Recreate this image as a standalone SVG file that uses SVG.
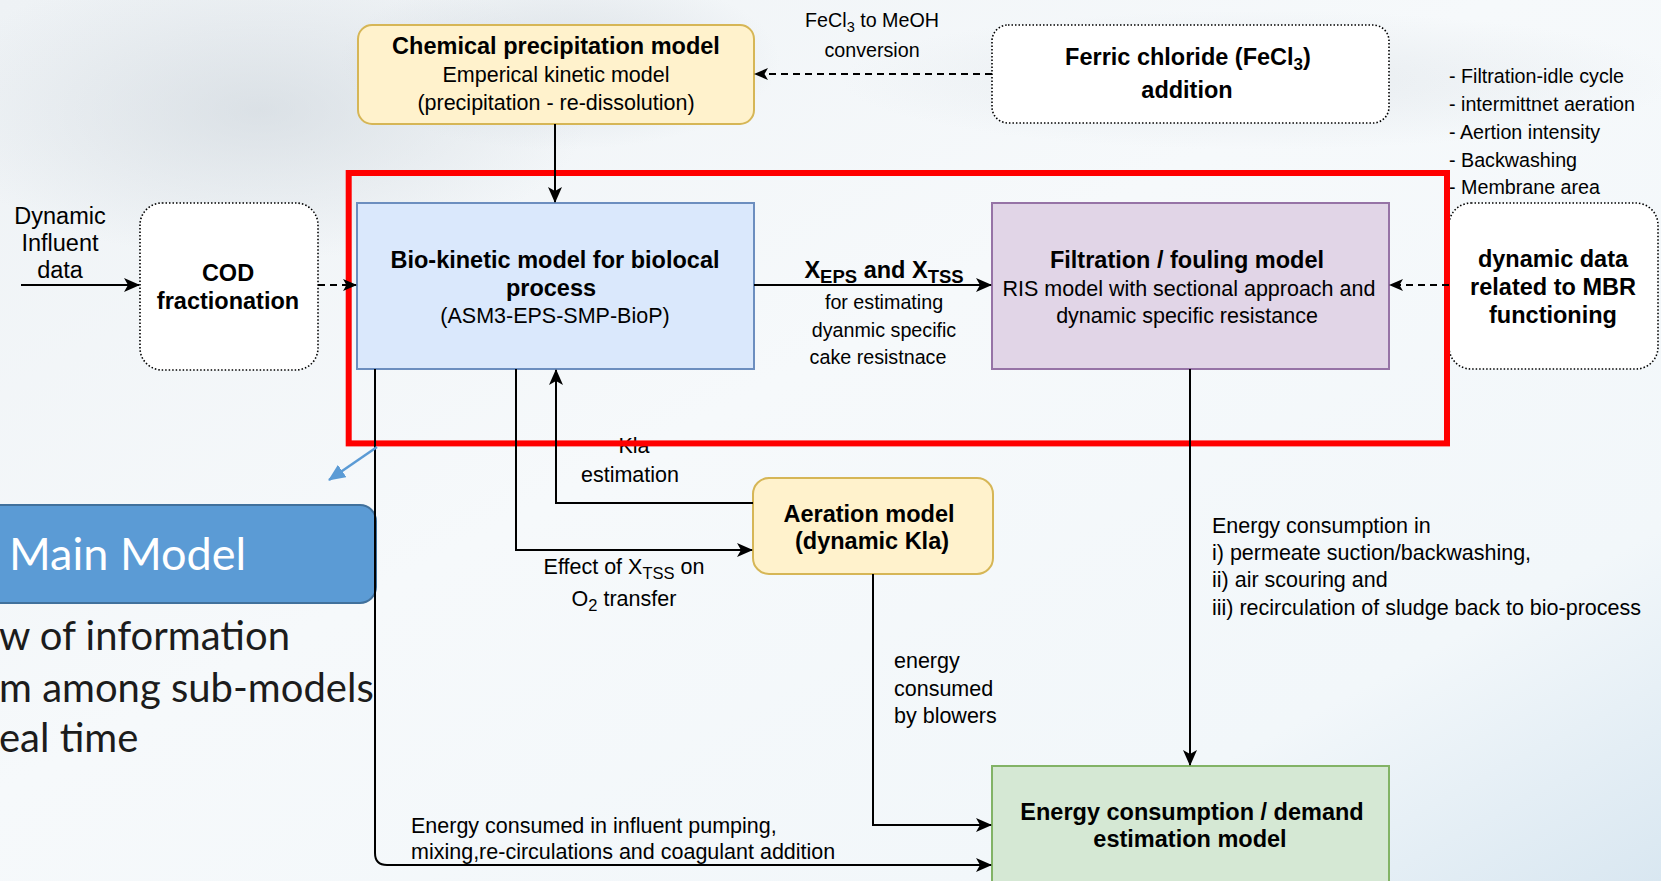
<svg xmlns="http://www.w3.org/2000/svg" width="1661" height="881" viewBox="0 0 1661 881">
<style>
.t{font-family:"Liberation Sans",Arial,sans-serif;fill:#000}
.b{font-weight:bold;font-size:23.5px}
.r{font-size:21.5px}
.s{font-size:19.7px}
.c{text-anchor:middle}
.ln{fill:none;stroke:#000;stroke-width:2}
.dash{fill:none;stroke:#000;stroke-width:2;stroke-dasharray:7 5}
.dot{fill:#fff;stroke:#000;stroke-width:1.6;stroke-dasharray:1.5 2}
.slide{font-family:Lato,"Open Sans",sans-serif;font-size:40px;fill:#1c1c1c}
</style>
<defs>
<linearGradient id="bg" x1="0" y1="0" x2="1" y2="1">
<stop offset="0" stop-color="#eef2f5"/>
<stop offset="0.45" stop-color="#f6f9fb"/>
<stop offset="0.8" stop-color="#f2f7fa"/>
<stop offset="1" stop-color="#d9e7f1"/>
</linearGradient>
<radialGradient id="splash" cx="0.5" cy="0.5" r="0.5">
<stop offset="0" stop-color="#c9d1d8" stop-opacity="0.55"/>
<stop offset="1" stop-color="#c9d1d8" stop-opacity="0"/>
</radialGradient>
<marker id="ah" viewBox="0 0 16 14" refX="15" refY="7" markerWidth="16" markerHeight="14" markerUnits="userSpaceOnUse" orient="auto">
<path d="M0,0 L16,7 L0,14 L4,7 Z" fill="#000"/>
</marker>
<marker id="ahs" viewBox="0 0 14 12" refX="13" refY="6" markerWidth="14" markerHeight="13" markerUnits="userSpaceOnUse" orient="auto">
<path d="M0,0 L14,6 L0,12 L3.5,6 Z" fill="#000"/>
</marker>
<marker id="ahb" viewBox="0 0 16 14" refX="15" refY="7" markerWidth="17" markerHeight="15" markerUnits="userSpaceOnUse" orient="auto">
<path d="M0,0 L16,7 L0,14 Z" fill="#5b9bd5"/>
</marker>
</defs>

<g id="background">
<rect x="0" y="0" width="1661" height="881" fill="url(#bg)"/>
<ellipse cx="260" cy="110" rx="330" ry="150" fill="url(#splash)"/>
<ellipse cx="560" cy="60" rx="220" ry="90" fill="url(#splash)"/>
<ellipse cx="1260" cy="80" rx="420" ry="70" fill="url(#splash)" opacity="0.6"/>
</g>

<g id="main-model-panel">
<rect x="-20" y="505" width="396" height="98" rx="16" fill="#5b9bd5" stroke="#41719c" stroke-width="2"/>
<text x="9" y="570" style="font-family:Lato,'Open Sans',sans-serif;font-size:45px;fill:#ffffff">Main Model</text>
<text class="slide" x="-1" y="650">w of information</text>
<text class="slide" x="-1" y="702">m among sub-models</text>
<text class="slide" x="-1" y="752">eal time</text>
</g>

<g id="node-chem">
<rect x="358" y="25" width="396" height="99" rx="14" fill="#fff2cc" stroke="#d6b656" stroke-width="2"/>
<text class="t b c" x="556" y="54">Chemical precipitation model</text>
<text class="t r c" x="556" y="82">Emperical kinetic model</text>
<text class="t r c" x="556" y="110">(precipitation - re-dissolution)</text>
</g>

<g id="node-ferric">
<rect x="992" y="25" width="397" height="98" rx="16" class="dot"/>
<text class="t b c" x="1188" y="65">Ferric chloride (FeCl<tspan font-size="17" dy="5">3</tspan><tspan dy="-5">)</tspan></text>
<text class="t b c" x="1187" y="98">addition</text>
</g>

<g id="node-cod">
<rect x="140" y="203" width="178" height="167" rx="22" class="dot"/>
<text class="t b c" x="228" y="281">COD</text>
<text class="t b c" x="228" y="309">fractionation</text>
</g>

<g id="node-bio">
<rect x="357" y="203" width="397" height="166" fill="#dae8fc" stroke="#6c8ebf" stroke-width="2"/>
<text class="t b c" x="555" y="268">Bio-kinetic model for biolocal</text>
<text class="t b c" x="551" y="296">process</text>
<text class="t r c" x="555" y="323">(ASM3-EPS-SMP-BioP)</text>
</g>

<g id="node-filtration">
<rect x="992" y="203" width="397" height="166" fill="#e1d5e7" stroke="#9673a6" stroke-width="2"/>
<text class="t b c" x="1187" y="268">Filtration / fouling model</text>
<text class="t r c" x="1189" y="296">RIS model with sectional approach and</text>
<text class="t r c" x="1187" y="323">dynamic specific resistance</text>
</g>

<g id="node-dynamic-data">
<rect x="1449" y="203" width="209" height="166" rx="22" class="dot"/>
<text class="t b c" x="1553" y="267">dynamic data</text>
<text class="t b c" x="1553" y="295">related to MBR</text>
<text class="t b c" x="1553" y="323">functioning</text>
</g>

<g id="node-aeration">
<rect x="753" y="478" width="240" height="96" rx="16" fill="#fff2cc" stroke="#d6b656" stroke-width="2"/>
<text class="t b c" x="869" y="522">Aeration model</text>
<text class="t b c" x="872" y="549">(dynamic Kla)</text>
</g>

<g id="node-energy">
<rect x="992" y="766" width="397" height="130" fill="#d5e8d4" stroke="#82b366" stroke-width="2"/>
<text class="t b c" x="1192" y="820">Energy consumption / demand</text>
<text class="t b c" x="1190" y="847">estimation model</text>
</g>

<g id="node-influent">
<text class="t c" font-size="23.5" x="60" y="224">Dynamic</text>
<text class="t c" font-size="23.5" x="60" y="251">Influent</text>
<text class="t c" font-size="23.5" x="60" y="278">data</text>
</g>

<g id="node-mbr-params">
<text class="t s" x="1449" y="83">- Filtration-idle cycle</text>
<text class="t s" x="1449" y="111">- intermittnet aeration</text>
<text class="t s" x="1449" y="139">- Aertion intensity</text>
<text class="t s" x="1449" y="167">- Backwashing</text>
<text class="t s" x="1449" y="194">- Membrane area</text>
</g>

<g id="labels">
<text class="t s c" x="872" y="27">FeCl<tspan font-size="14.5" dy="5">3</tspan><tspan dy="-5"> to  MeOH</tspan></text>
<text class="t s c" x="872" y="57">conversion</text>
<text class="t b c" x="884" y="278">X<tspan font-size="18.5" dy="5">EPS</tspan><tspan dy="-5"> and X</tspan><tspan font-size="18.5" dy="5">TSS</tspan></text>
<text class="t s c" x="884" y="309">for estimating</text>
<text class="t s c" x="884" y="337">dyanmic specific</text>
<text class="t s c" x="878" y="364">cake resistnace</text>
<text class="t r c" x="634" y="453">Kla</text>
<text class="t r c" x="630" y="482">estimation</text>
<text class="t r c" x="624" y="574">Effect of X<tspan font-size="16.5" dy="5">TSS</tspan><tspan dy="-5"> on</tspan></text>
<text class="t r c" x="624" y="606">O<tspan font-size="16.5" dy="5">2</tspan><tspan dy="-5"> transfer</tspan></text>
<text class="t r" x="894" y="668">energy</text>
<text class="t r" x="894" y="696">consumed</text>
<text class="t r" x="894" y="723">by blowers</text>
<text class="t r" x="1212" y="533">Energy consumption in</text>
<text class="t r" x="1212" y="560">i) permeate suction/backwashing,</text>
<text class="t r" x="1212" y="587">ii) air scouring and</text>
<text class="t r" x="1212" y="615">iii) recirculation of sludge back to bio-process</text>
<text class="t r" x="411" y="833">Energy consumed in influent pumping,</text>
<text class="t r" x="411" y="859">mixing,re-circulations and coagulant addition</text>
</g>

<g id="highlight">
<rect x="348.7" y="173" width="1098.3" height="270.4" fill="none" stroke="#ff0000" stroke-width="6"/>
</g>

<g id="connectors">
<line class="dash" x1="992" y1="74" x2="755" y2="74" marker-end="url(#ahs)"/>
<line class="ln" x1="555" y1="124" x2="555" y2="202" marker-end="url(#ah)"/>
<line class="ln" x1="21" y1="285" x2="139" y2="285" marker-end="url(#ah)"/>
<line class="dash" x1="318" y1="285" x2="356" y2="285" marker-end="url(#ahs)"/>
<line class="ln" x1="754" y1="285" x2="991" y2="285" marker-end="url(#ah)"/>
<line class="dash" x1="1449" y1="285" x2="1390" y2="285" marker-end="url(#ahs)"/>
<polyline class="ln" points="753,503 556,503 556,370" marker-end="url(#ah)"/>
<polyline class="ln" points="516,369 516,550 752,550" marker-end="url(#ah)"/>
<polyline class="ln" points="873,574 873,825 991,825" marker-end="url(#ah)"/>
<line class="ln" x1="1190" y1="369" x2="1190" y2="765" marker-end="url(#ah)"/>
<path class="ln" d="M375,369 L375,853 Q375,865 387,865 L991,865" marker-end="url(#ah)"/>
<line x1="377" y1="447" x2="329" y2="480" stroke="#5b9bd5" stroke-width="2.5" marker-end="url(#ahb)"/>
</g>
</svg>
